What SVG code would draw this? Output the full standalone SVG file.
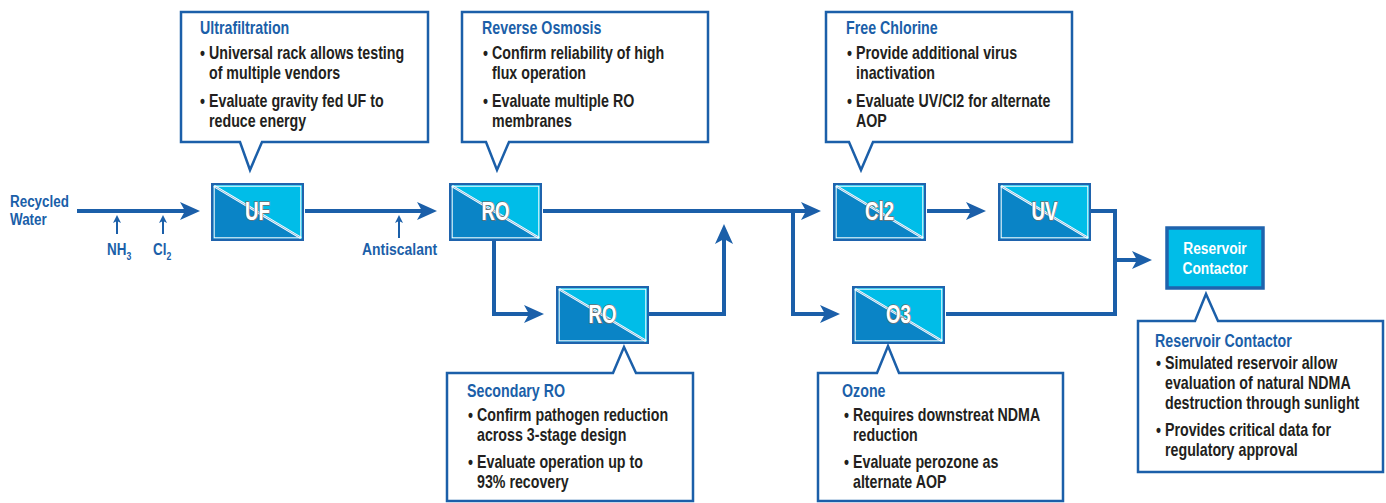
<svg xmlns="http://www.w3.org/2000/svg" xmlns:xlink="http://www.w3.org/1999/xlink" width="1386" height="503" viewBox="0 0 1386 503">
  <style>
    .flow { fill: none; stroke: #1b5fa9; stroke-width: 4; }
    .feed { fill: none; stroke: #1b5fa9; stroke-width: 2; }
    .lbl { font-family: "Liberation Sans", Arial, sans-serif; font-weight: bold; fill: #1b5fa9; font-size: 17px; }
    .box-lbl { font-family: "Liberation Sans", Arial, sans-serif; font-weight: bold; font-size: 26px; fill: #ffffff; stroke: #6f6f6f; stroke-width: 1.6; paint-order: stroke; text-anchor: middle; }
    .res-lbl { font-family: "Liberation Sans", Arial, sans-serif; font-weight: bold; font-size: 17px; fill: #ffffff; text-anchor: middle; }
    .callout { fill: #ffffff; stroke: #1b5fa9; stroke-width: 2.5; stroke-linejoin: miter; }
    .ttl { font-family: "Liberation Sans", Arial, sans-serif; font-weight: bold; font-size: 18px; fill: #1b5fa9; }
    .txt { font-family: "Liberation Sans", Arial, sans-serif; font-weight: bold; font-size: 18px; fill: #231f20; }
  </style>
  <defs>
    <marker id="arrow" markerUnits="userSpaceOnUse" markerWidth="22" markerHeight="20" refX="15" refY="9" orient="auto">
      <path d="M0,0 L20,9 L0,18 L5,9 Z" fill="#1b5fa9"/>
    </marker>
    <marker id="arrow-sm" markerUnits="userSpaceOnUse" markerWidth="10" markerHeight="10" refX="6" refY="4" orient="auto">
      <path d="M0,0 L8,4 L0,8 L2,4 Z" fill="#1b5fa9"/>
    </marker>
    <!-- process unit: split-tone box with white diagonal -->
    <g id="pbox">
      <rect x="0" y="0" width="91" height="56" fill="#0a84c6"/>
      <polygon points="0,0 91,0 91,56" fill="#00bde8"/>
      <line x1="2" y1="2" x2="89" y2="54" stroke="#ffffff" stroke-width="2.6"/>
      <line x1="2" y1="2" x2="89" y2="54" stroke="#5fa3d4" stroke-width="0.7"/>
      <rect x="2.2" y="2.2" width="86.6" height="51.6" fill="none" stroke="#ffffff" stroke-width="1"/>
      <rect x="0" y="0" width="91" height="56" fill="none" stroke="#1f63ad" stroke-width="2"/>
    </g>
  </defs>

  <!-- connectors -->
  <g id="connectors">
    <path class="flow" d="M77,211 H195" marker-end="url(#arrow)"/>
    <path class="flow" d="M305,211 H432" marker-end="url(#arrow)"/>
    <path class="flow" d="M543,211 H816" marker-end="url(#arrow)"/>
    <path class="flow" d="M494,240 V314 H539" marker-end="url(#arrow)"/>
    <path class="flow" d="M649,314 H724 V229" marker-end="url(#arrow)"/>
    <path class="flow" d="M793,211 V314 H835" marker-end="url(#arrow)"/>
    <path class="flow" d="M927,211 H981" marker-end="url(#arrow)"/>
    <path class="flow" d="M1091,211 H1115 V314 H946"/>
    <path class="flow" d="M1115,260 H1147" marker-end="url(#arrow)"/>
    <path class="feed" d="M117,234 V217" marker-end="url(#arrow-sm)"/>
    <path class="feed" d="M163,234 V217" marker-end="url(#arrow-sm)"/>
    <path class="feed" d="M399,238 V217" marker-end="url(#arrow-sm)"/>
  </g>

  <!-- inputs -->
  <g id="inputs">
    <g transform="translate(10,0) scale(0.79,1)">
      <text class="lbl" x="0" y="207">Recycled</text>
      <text class="lbl" x="0" y="225">Water</text>
    </g>
    <g transform="translate(107,0) scale(0.79,1)">
      <text class="lbl" x="0" y="255">NH<tspan font-size="11" dy="5">3</tspan></text>
    </g>
    <g transform="translate(153,0) scale(0.79,1)">
      <text class="lbl" x="0" y="255">Cl<tspan font-size="11" dy="5">2</tspan></text>
    </g>
    <g transform="translate(362,0) scale(0.82,1)">
      <text class="lbl" x="0" y="255">Antiscalant</text>
    </g>
  </g>

  <!-- process units -->
  <g id="uf" transform="translate(212,184)">
    <use xlink:href="#pbox"/>
    <g transform="translate(45.5,0) scale(0.72,1)"><text class="box-lbl" x="0" y="36">UF</text></g>
  </g>
  <g id="ro1" transform="translate(450,184)">
    <use xlink:href="#pbox"/>
    <g transform="translate(45.5,0) scale(0.72,1)"><text class="box-lbl" x="0" y="36">RO</text></g>
  </g>
  <g id="ro2" transform="translate(557,287)">
    <use xlink:href="#pbox"/>
    <g transform="translate(45.5,0) scale(0.72,1)"><text class="box-lbl" x="0" y="36">RO</text></g>
  </g>
  <g id="cl2" transform="translate(834,184)">
    <use xlink:href="#pbox"/>
    <g transform="translate(45.5,0) scale(0.72,1)"><text class="box-lbl" x="0" y="36">Cl2</text></g>
  </g>
  <g id="uv" transform="translate(999,184)">
    <use xlink:href="#pbox"/>
    <g transform="translate(45.5,0) scale(0.72,1)"><text class="box-lbl" x="0" y="36">UV</text></g>
  </g>
  <g id="o3" transform="translate(853,287)">
    <use xlink:href="#pbox"/>
    <g transform="translate(45.5,0) scale(0.72,1)"><text class="box-lbl" x="0" y="36">O3</text></g>
  </g>
  <g id="reservoir">
    <rect x="1167" y="228" width="96" height="60" fill="#00bde8" stroke="#1f63ad" stroke-width="3.5"/>
    <g transform="translate(1215,0) scale(0.81,1)">
      <text class="res-lbl" x="0" y="254">Reservoir</text>
      <text class="res-lbl" x="0" y="274">Contactor</text>
    </g>
  </g>

  <!-- callouts: text blocks are set in a condensed width -->
  <g id="callout-uf">
    <path class="callout" d="M181,12 H428 V142 H262 L250,170 L240,142 H181 Z"/>
    <g transform="translate(209,0) scale(0.79,1)">
      <text class="ttl" x="-11.4" y="34">Ultrafiltration</text>
      <text class="txt" x="-11.4" y="59">•</text>
      <text class="txt" x="0" y="59">Universal rack allows testing</text>
      <text class="txt" x="0" y="79">of multiple vendors</text>
      <text class="txt" x="-11.4" y="107">•</text>
      <text class="txt" x="0" y="107">Evaluate gravity fed UF to</text>
      <text class="txt" x="0" y="127">reduce energy</text>
    </g>
  </g>
  <g id="callout-ro">
    <path class="callout" d="M462,12 H708 V142 H509 L497,170 L486,142 H462 Z"/>
    <g transform="translate(492,0) scale(0.79,1)">
      <text class="ttl" x="-12.6" y="34">Reverse Osmosis</text>
      <text class="txt" x="-11.4" y="59">•</text>
      <text class="txt" x="0" y="59">Confirm reliability of high</text>
      <text class="txt" x="0" y="79">flux operation</text>
      <text class="txt" x="-11.4" y="107">•</text>
      <text class="txt" x="0" y="107">Evaluate multiple RO</text>
      <text class="txt" x="0" y="127">membranes</text>
    </g>
  </g>
  <g id="callout-cl2">
    <path class="callout" d="M826,12 H1072 V142 H873 L861,170 L849,142 H826 Z"/>
    <g transform="translate(856,0) scale(0.79,1)">
      <text class="ttl" x="-12.6" y="34">Free Chlorine</text>
      <text class="txt" x="-11.4" y="59">•</text>
      <text class="txt" x="0" y="59">Provide additional virus</text>
      <text class="txt" x="0" y="79">inactivation</text>
      <text class="txt" x="-11.4" y="107">•</text>
      <text class="txt" x="0" y="107">Evaluate UV/Cl2 for alternate</text>
      <text class="txt" x="0" y="127">AOP</text>
    </g>
  </g>
  <g id="callout-ro2">
    <path class="callout" d="M447,373 H613 L624,347 L636,373 H693 V501 H447 Z"/>
    <g transform="translate(477,0) scale(0.79,1)">
      <text class="ttl" x="-12.6" y="397">Secondary RO</text>
      <text class="txt" x="-11.4" y="421">•</text>
      <text class="txt" x="0" y="421">Confirm pathogen reduction</text>
      <text class="txt" x="0" y="441">across 3-stage design</text>
      <text class="txt" x="-11.4" y="468">•</text>
      <text class="txt" x="0" y="468">Evaluate operation up to</text>
      <text class="txt" x="0" y="488">93% recovery</text>
    </g>
  </g>
  <g id="callout-o3">
    <path class="callout" d="M818,373 H877 L888,346 L899,373 H1063 V501 H818 Z"/>
    <g transform="translate(853,0) scale(0.79,1)">
      <text class="ttl" x="-13.9" y="397">Ozone</text>
      <text class="txt" x="-11.4" y="421">•</text>
      <text class="txt" x="0" y="421">Requires downstreat NDMA</text>
      <text class="txt" x="0" y="441">reduction</text>
      <text class="txt" x="-11.4" y="468">•</text>
      <text class="txt" x="0" y="468">Evaluate perozone as</text>
      <text class="txt" x="0" y="488">alternate AOP</text>
    </g>
  </g>
  <g id="callout-reservoir">
    <path class="callout" d="M1138,321 H1195 L1206,294 L1218,321 H1383 V472 H1138 Z"/>
    <g transform="translate(1165,0) scale(0.79,1)">
      <text class="ttl" x="-12.6" y="347">Reservoir Contactor</text>
      <text class="txt" x="-11.4" y="369">•</text>
      <text class="txt" x="0" y="369">Simulated reservoir allow</text>
      <text class="txt" x="0" y="389">evaluation of natural NDMA</text>
      <text class="txt" x="0" y="409">destruction through sunlight</text>
      <text class="txt" x="-11.4" y="436">•</text>
      <text class="txt" x="0" y="436">Provides critical data for</text>
      <text class="txt" x="0" y="456">regulatory approval</text>
    </g>
  </g>
</svg>
